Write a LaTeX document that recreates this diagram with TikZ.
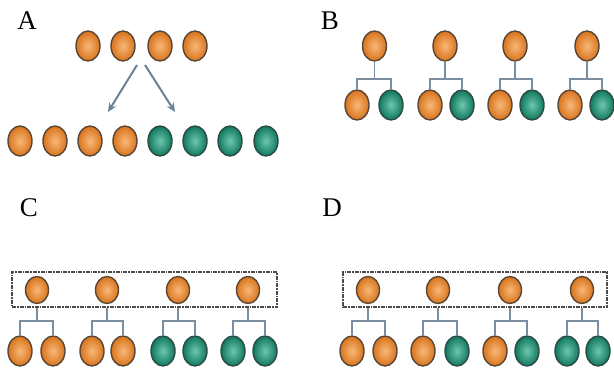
\documentclass[tikz,border=0pt]{standalone}
\usepackage{fontspec}
\setmainfont{Liberation Serif}
\usetikzlibrary{shapes.geometric,arrows.meta}
\definecolor{oin}{HTML}{F8B878}
\definecolor{oout}{HTML}{D8741C}
\definecolor{gin}{HTML}{6CC8AE}
\definecolor{gout}{HTML}{10785E}
\definecolor{rimO}{HTML}{5A4636}
\definecolor{rimG}{HTML}{2E4A44}
\definecolor{conncol}{HTML}{7A8EA0}
\definecolor{arrcol}{HTML}{6A8298}
\definecolor{boxcol}{HTML}{4A4A4A}
\tikzset{
  ballbase/.style={ellipse, inner sep=0pt, minimum width=24pt, minimum height=30pt, line width=1.4pt},
  oball/.style={ballbase, draw=rimO, shading=radial, inner color=oin, outer color=oout},
  gball/.style={ballbase, draw=rimG, shading=radial, inner color=gin, outer color=gout},
  topball/.style={minimum width=23pt, minimum height=27pt},
  conn/.style={draw=conncol, line width=1.8pt},
  arr/.style={draw=arrcol, line width=2pt, -{Stealth[length=9pt,width=8pt]}},
  dbox/.style={draw=boxcol, line width=1.3pt, dash pattern=on 4pt off 1pt on 1.5pt off 1pt, inner sep=0pt, minimum height=35pt},
  lab/.style={font=\fontsize{27}{27}\selectfont, inner sep=0pt}
}
\begin{document}
\begin{tikzpicture}[x=1pt, y=-1pt]
\useasboundingbox (0,0) rectangle (614,372);
% labels
\node[lab] (LA) at (27,21) {A};
\node[lab] (LB) at (330,21) {B};
\node[lab] (LC) at (29,208) {C};
\node[lab] (LD) at (332,208) {D};
% Panel A
\foreach \i/\x in {1/88,2/123,3/160,4/195}{\node[oball] (at\i) at (\x,46) {};}
\foreach \i/\x in {1/20,2/55,3/90,4/125}{\node[oball] (ab\i) at (\x,141) {};}
\foreach \i/\x in {5/160,6/195,7/230,8/266}{\node[gball] (ab\i) at (\x,141) {};}
\coordinate (as1) at (137,65);
\coordinate (ae1) at (108,112);
\coordinate (as2) at (145,65);
\coordinate (ae2) at (175,112);
\draw[arr] (as1) -- (ae1);
\draw[arr] (as2) -- (ae2);
% Panel B
\foreach \i/\x in {1/374.5,2/445,3/515,4/587}{\node[oball] (bt\i) at (\x,46) {};}
\foreach \i/\x/\y in {1/357/391,2/430/462,3/500/532,4/570/602}{
  \node[oball] (bl\i) at (\x,105) {};
  \node[gball] (br\i) at (\y,105) {};
  \draw[conn] (bt\i.south) -- ++(0,17) coordinate (bj\i);
  \draw[conn] (bl\i.north) |- (bj\i) -| (br\i.north);
}
% Panel C
\node[dbox, minimum width=265pt] (cbox) at (144.5,289.5) {};
\foreach \i/\x in {1/37,2/107,3/178,4/248}{\node[oball, topball] (ct\i) at (\x,290) {};}
\foreach \i/\x/\y/\s in {1/20/53/oball,2/92/123/oball,3/163/195/gball,4/233/265/gball}{
  \node[\s] (cl\i) at (\x,351) {};
  \node[\s] (cr\i) at (\y,351) {};
  \draw[conn] (ct\i |- cbox.south) -- ++(0,13) coordinate (cj\i);
  \draw[conn] (cl\i.north) |- (cj\i) -| (cr\i.north);
}
% Panel D
\node[dbox, minimum width=264pt] (dbox) at (475,289.5) {};
\foreach \i/\x in {1/368,2/438,3/510,4/582}{\node[oball, topball] (dt\i) at (\x,290) {};}
\foreach \i/\x/\y/\s/\t in {1/352/385/oball/oball,2/423/457/oball/gball,3/495/527/oball/gball,4/567/598/gball/gball}{
  \node[\s] (dl\i) at (\x,351) {};
  \node[\t] (dr\i) at (\y,351) {};
  \draw[conn] (dt\i |- dbox.south) -- ++(0,13) coordinate (dj\i);
  \draw[conn] (dl\i.north) |- (dj\i) -| (dr\i.north);
}
\end{tikzpicture}
\end{document}
